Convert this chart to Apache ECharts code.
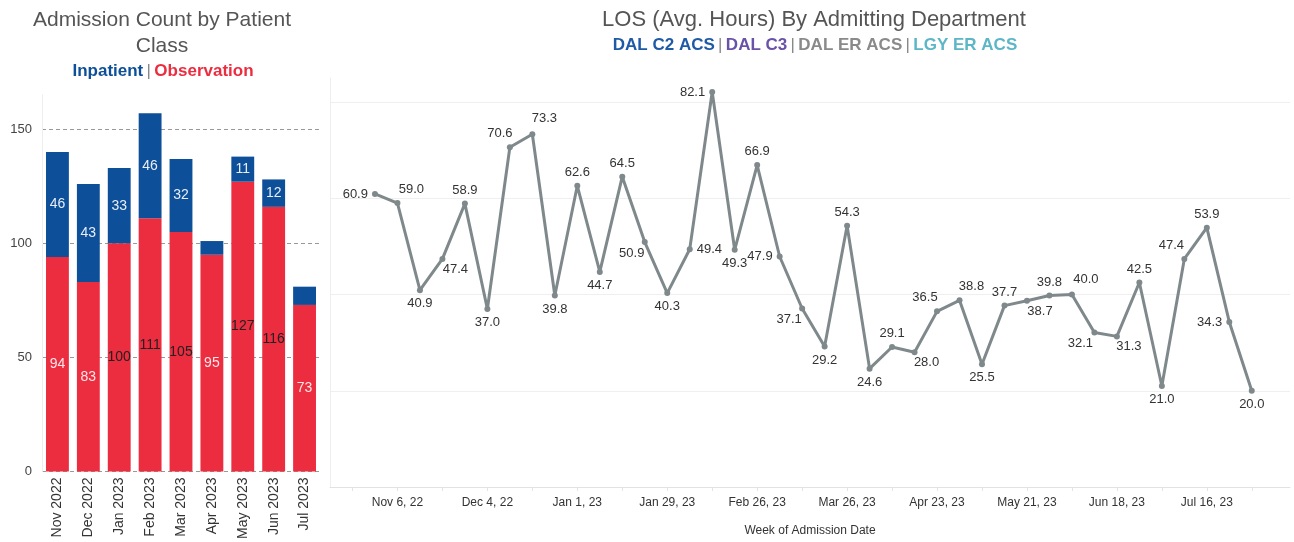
<!DOCTYPE html>
<html>
<head>
<meta charset="utf-8">
<script src="https://cdn.jsdelivr.net/npm/echarts@6/dist/echarts.min.js"></script>
<style>
html,body{margin:0;padding:0;background:#fff;}
#c{width:1294px;height:542px;}
</style>
</head>
<body>
<div id="c"></div>
<script>
// ---- Left chart data ----
const months = ['Nov 2022','Dec 2022','Jan 2023','Feb 2023','Mar 2023','Apr 2023','May 2023','Jun 2023','Jul 2023'];
const observation = [94, 83, 100, 111, 105, 95, 127, 116, 73];
const inpatient = [46, 43, 33, 46, 32, 6, 11, 12, 8];
const countTicks = [0, 50, 100, 150];

// ---- Right chart data ----
const weeks = ['Oct 30, 22','Nov 6, 22','Nov 13, 22','Nov 20, 22','Nov 27, 22','Dec 4, 22','Dec 11, 22','Dec 18, 22','Dec 25, 22',
  'Jan 1, 23','Jan 8, 23','Jan 15, 23','Jan 22, 23','Jan 29, 23','Feb 5, 23','Feb 12, 23','Feb 19, 23','Feb 26, 23',
  'Mar 5, 23','Mar 12, 23','Mar 19, 23','Mar 26, 23','Apr 2, 23','Apr 9, 23','Apr 16, 23','Apr 23, 23','Apr 30, 23',
  'May 7, 23','May 14, 23','May 21, 23','May 28, 23','Jun 4, 23','Jun 11, 23','Jun 18, 23','Jun 25, 23','Jul 2, 23',
  'Jul 9, 23','Jul 16, 23','Jul 23, 23','Jul 30, 23'];
const losHours = [60.9, 59.0, 40.9, 47.4, 58.9, 37.0, 70.6, 73.3, 39.8, 62.6, 44.7, 64.5, 50.9, 40.3, 49.4, 82.1, 49.3, 66.9, 47.9, 37.1,
  29.2, 54.3, 24.6, 29.1, 28.0, 36.5, 38.8, 25.5, 37.7, 38.7, 39.8, 40.0, 32.1, 31.3, 42.5, 21.0, 47.4, 53.9, 34.3, 20.0];
const weekTickLabels = ['Nov 6, 22','Dec 4, 22','Jan 1, 23','Jan 29, 23','Feb 26, 23','Mar 26, 23','Apr 23, 23','May 21, 23','Jun 18, 23','Jul 16, 23'];
const losGridValues = [0, 20, 40, 60, 80];

// ---- styles (label placement) ----
const darkObsLabel = [false,false,true,true,true,false,true,true,false];
const labelPlace = [
 ['left',0,0],['top',14,0],['bottom',0,0],['bottom',13,-3],['top',0,0],['bottom',0,0],['top',-10,0],['top',12,-2],
 ['bottom',0,0],['top',0,0],['bottom',0,0],['top',0,0],['bottom',-13,-2],['bottom',0,0],['right',0,0],['left',0,0],
 ['bottom',0,0],['top',0,0],['left',0,0],['bottom',-13,-3],['bottom',0,0],['top',0,0],['bottom',0,0],['top',0,0],
 ['bottom',12,-3],['top',-12,0],['top',12,0],['bottom',0,0],['top',0,0],['bottom',13,-3],['top',0,0],['top',14,-2],
 ['bottom',-14,-3],['bottom',12,-3],['top',0,0],['bottom',0,0],['top',-13,0],['top',0,0],['left',0,0],['bottom',0,0]
];

const FONT = "'Liberation Sans',Arial,sans-serif";
const BLUE = '#0d4f98', RED = '#ec2c3f', GREY_LINE = '#7f898c';

const chart = echarts.init(document.getElementById('c'), null, {renderer:'canvas'});

const tickIdx = weekTickLabels.map(l => weeks.indexOf(l));
const minorTicks = [];
for (let i = -1; i < weeks.length; i += 2) minorTicks.push(i);

const option = {
  animation: false,
  textStyle: {fontFamily: FONT},
  graphic: [
    {type:'text', x:162, y:20, style:{text:'Admission Count by Patient', font:"21px "+FONT, fill:'#555', align:'center', verticalAlign:'middle'}},
    {type:'text', x:162, y:46, style:{text:'Class', font:"21px "+FONT, fill:'#555', align:'center', verticalAlign:'middle'}},
    {type:'text', x:163, y:71, style:{text:'{a|Inpatient} {s||} {b|Observation}', align:'center', verticalAlign:'middle',
      rich:{a:{font:"bold 17px "+FONT, fill:BLUE, color:BLUE}, s:{font:"17px "+FONT, fill:'#888', color:'#888'}, b:{font:"bold 17px "+FONT, fill:RED, color:RED}}}},
    {type:'text', x:814, y:20, style:{text:'LOS (Avg. Hours) By Admitting Department', font:"22px "+FONT, fill:'#555', align:'center', verticalAlign:'middle'}},
    {type:'text', x:815, y:45, style:{text:'{a|DAL C2 ACS} {s||} {b|DAL C3} {s||} {c|DAL ER ACS} {s||} {d|LGY ER ACS}', align:'center', verticalAlign:'middle',
      rich:{a:{font:"bold 17px "+FONT, fill:'#1f5aa6', color:'#1f5aa6'}, b:{font:"bold 17px "+FONT, fill:'#6a52a8', color:'#6a52a8'},
            c:{font:"bold 17px "+FONT, fill:'#8a8a8a', color:'#8a8a8a'}, d:{font:"bold 17px "+FONT, fill:'#5cb6c6', color:'#5cb6c6'},
            s:{font:"17px "+FONT, fill:'#888', color:'#888'}}}}
  ],
  grid: [
    {left:42, right:1294-320, top:95, bottom:542-473, containLabel:false},
    {left:330, right:4, top:78, bottom:542-488, containLabel:false}
  ],
  xAxis: [
    {gridIndex:0, type:'category', data:months,
     axisLine:{show:false}, axisTick:{show:false},
     axisLabel:{rotate:90, color:'#333', fontSize:14, fontFamily:FONT, margin:6, interval:0}},
    {gridIndex:1, type:'value', min:-2, max:40.7,
     axisLine:{show:true, onZero:false, lineStyle:{color:'#e2e2e2', width:1}},
     axisTick:{show:true, customValues:minorTicks, length:4, lineStyle:{color:'#e4e4e4'}},
     splitLine:{show:false},
     axisLabel:{customValues:tickIdx, formatter:v => weeks[Math.round(v)] || '', color:'#333', fontSize:12, fontFamily:FONT, margin:10},
     name:'Week of Admission Date', nameLocation:'middle', nameGap:38, nameTextStyle:{color:'#333', fontSize:12, fontFamily:FONT}}
  ],
  yAxis: [
    {gridIndex:0, type:'value', min:0, max:165,
     axisLine:{show:true, onZero:false, lineStyle:{color:'#eeeeee'}}, axisTick:{show:false, customValues:countTicks},
     splitLine:{show:true, lineStyle:{color:'#999', type:[4,3], width:1}},
     axisLabel:{color:'#444', fontSize:13, fontFamily:FONT, margin:10, customValues:countTicks}},
    {gridIndex:1, type:'value', min:0, max:85,
     axisLine:{show:true, onZero:false, lineStyle:{color:'#eeeeee'}}, axisTick:{show:false, customValues:losGridValues},
     splitLine:{show:true, lineStyle:{color:'#efefef', width:1}},
     axisLabel:{show:false, customValues:losGridValues}}
  ],
  series: [
    {type:'bar', xAxisIndex:0, yAxisIndex:0, stack:'a', name:'Observation', barCategoryGap:'26%',
     itemStyle:{color:RED},
     data: observation.map((v,i) => ({value:v, label:{color: darkObsLabel[i] ? '#222' : '#fde6e8'}})),
     label:{show:true, position:'inside', fontSize:14, fontFamily:FONT}},
    {type:'bar', xAxisIndex:0, yAxisIndex:0, stack:'a', name:'Inpatient',
     itemStyle:{color:BLUE},
     data: inpatient.map(v => ({value:v, label:{show: v >= 10}})),
     label:{show:true, position:'inside', color:'#e8eef7', fontSize:14, fontFamily:FONT}},
    {type:'line', xAxisIndex:1, yAxisIndex:1, name:'LOS',
     data: losHours.map((v,i) => ({value:[i, v], label:{position:labelPlace[i][0], offset:[labelPlace[i][1], labelPlace[i][2]]}})),
     lineStyle:{color:GREY_LINE, width:3}, itemStyle:{color:GREY_LINE},
     symbol:'circle', symbolSize:6, showAllSymbol:true,
     label:{show:true, color:'#333', fontSize:13, fontFamily:FONT, distance:4, formatter:p => p.value[1].toFixed(1)}}
  ]
};
chart.setOption(option);
</script>
</body>
</html>
